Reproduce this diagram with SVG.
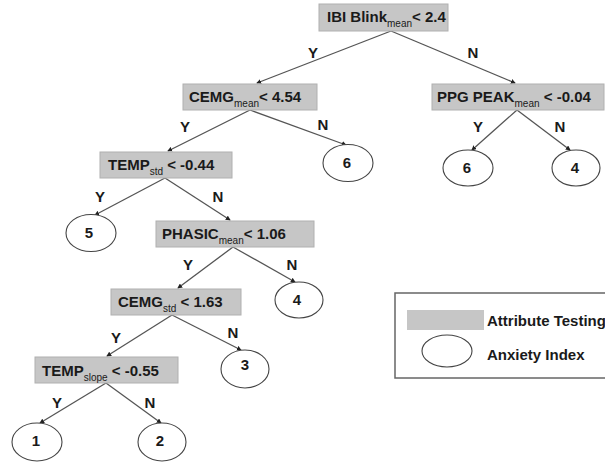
<svg xmlns="http://www.w3.org/2000/svg" width="605" height="464" viewBox="0 0 605 464">
<defs>
<style>
.box{fill:#c6c6c6;stroke:#b0b0b0;stroke-width:1}
.bt{font-family:"Liberation Sans",Arial,sans-serif;font-weight:bold;font-size:15px;fill:#1a1a1a}
.sub{font-size:10px;font-weight:normal}
.leaf{fill:#fff;stroke:#444;stroke-width:1.1}
.num{font-family:"Liberation Sans",Arial,sans-serif;font-weight:bold;font-size:15px;fill:#1a1a1a;text-anchor:middle}
.lbl{font-family:"Liberation Sans",Arial,sans-serif;font-weight:bold;font-size:15px;fill:#1a1a1a;text-anchor:middle}
.edge{stroke:#555;stroke-width:1.3;fill:none;marker-end:url(#arr)}
</style>
<marker id="arr" viewBox="0 0 6 6" refX="5" refY="3" markerWidth="5" markerHeight="5" markerUnits="userSpaceOnUse" orient="auto">
<path d="M0,0 L6,3 L0,6 Z" fill="#222"/>
</marker>
</defs>
<rect width="605" height="464" fill="#fff"/>

<g id="connectors">
<line class="edge" x1="391" y1="31" x2="257" y2="83"/>
<line class="edge" x1="391" y1="31" x2="515" y2="83"/>
<line class="edge" x1="250" y1="110" x2="168" y2="151"/>
<line class="edge" x1="250" y1="110" x2="346" y2="145"/>
<line class="edge" x1="517" y1="110" x2="472" y2="150"/>
<line class="edge" x1="517" y1="110" x2="570" y2="150"/>
<line class="edge" x1="165" y1="178" x2="95" y2="215"/>
<line class="edge" x1="165" y1="178" x2="230" y2="220"/>
<line class="edge" x1="233" y1="247" x2="178" y2="288"/>
<line class="edge" x1="233" y1="247" x2="295" y2="282"/>
<line class="edge" x1="172" y1="315" x2="107" y2="356"/>
<line class="edge" x1="172" y1="315" x2="241" y2="350"/>
<line class="edge" x1="106" y1="383" x2="40" y2="423"/>
<line class="edge" x1="106" y1="383" x2="161" y2="423"/>
<text class="lbl" x="313" y="58">Y</text>
<text class="lbl" x="473" y="58">N</text>
<text class="lbl" x="185" y="132">Y</text>
<text class="lbl" x="323" y="130">N</text>
<text class="lbl" x="478" y="132">Y</text>
<text class="lbl" x="560" y="132">N</text>
<text class="lbl" x="100" y="202">Y</text>
<text class="lbl" x="218" y="202">N</text>
<text class="lbl" x="188" y="270">Y</text>
<text class="lbl" x="292" y="270">N</text>
<text class="lbl" x="116" y="343">Y</text>
<text class="lbl" x="233" y="338">N</text>
<text class="lbl" x="57" y="408">Y</text>
<text class="lbl" x="150" y="408">N</text>
</g>

<g id="n_root">
<rect class="box" x="319" y="4" width="129" height="27"/>
<text class="bt" x="327" y="22">IBI Blink<tspan class="sub" dy="5">mean</tspan><tspan dy="-5">&lt; 2.4</tspan></text>
</g>
<g id="n_cemg_mean">
<rect class="box" x="183" y="84" width="134" height="26"/>
<text class="bt" x="189" y="102">CEMG<tspan class="sub" dy="5">mean</tspan><tspan dy="-5">&lt; 4.54</tspan></text>
</g>
<g id="n_ppg">
<rect class="box" x="432" y="84" width="172" height="26"/>
<text class="bt" x="437" y="102">PPG PEAK<tspan class="sub" dy="5">mean</tspan><tspan dy="-5"> &lt; -0.04</tspan></text>
</g>
<g id="n_temp_std">
<rect class="box" x="100" y="152" width="132" height="26"/>
<text class="bt" x="108" y="170">TEMP<tspan class="sub" dy="5">std</tspan><tspan dy="-5"> &lt; -0.44</tspan></text>
</g>
<g id="n_phasic">
<rect class="box" x="156" y="221" width="158" height="26"/>
<text class="bt" x="162" y="239">PHASIC<tspan class="sub" dy="5">mean</tspan><tspan dy="-5">&lt; 1.06</tspan></text>
</g>
<g id="n_cemg_std">
<rect class="box" x="111" y="289" width="130" height="26"/>
<text class="bt" x="118" y="307">CEMG<tspan class="sub" dy="5">std</tspan><tspan dy="-5"> &lt; 1.63</tspan></text>
</g>
<g id="n_temp_slope">
<rect class="box" x="35" y="357" width="143" height="26"/>
<text class="bt" x="42" y="376">TEMP<tspan class="sub" dy="5">slope</tspan><tspan dy="-5"> &lt; -0.55</tspan></text>
</g>

<g id="leaf_6a"><ellipse class="leaf" cx="348" cy="163" rx="25" ry="18.5"/><text class="num" x="347" y="168">6</text></g>
<g id="leaf_6b"><ellipse class="leaf" cx="468" cy="168" rx="25" ry="18"/><text class="num" x="467" y="173">6</text></g>
<g id="leaf_4a"><ellipse class="leaf" cx="576" cy="168" rx="24" ry="18"/><text class="num" x="575" y="173">4</text></g>
<g id="leaf_5"><ellipse class="leaf" cx="91" cy="233" rx="25" ry="18.5"/><text class="num" x="89" y="238">5</text></g>
<g id="leaf_4b"><ellipse class="leaf" cx="299" cy="300" rx="24" ry="18"/><text class="num" x="297" y="305">4</text></g>
<g id="leaf_3"><ellipse class="leaf" cx="245" cy="369" rx="24" ry="19"/><text class="num" x="245" y="370">3</text></g>
<g id="leaf_1"><ellipse class="leaf" cx="37" cy="442" rx="25" ry="19"/><text class="num" x="36" y="446">1</text></g>
<g id="leaf_2"><ellipse class="leaf" cx="162" cy="442" rx="24" ry="19"/><text class="num" x="160" y="446">2</text></g>

<g id="legend">
<rect x="395" y="293" width="250" height="85" fill="#fff" stroke="#666" stroke-width="1.5"/>
<rect x="407" y="310" width="77" height="20" fill="#c6c6c6"/>
<text class="bt" x="487" y="326">Attribute Testing</text>
<ellipse class="leaf" cx="447" cy="351" rx="25" ry="16"/>
<text class="bt" x="487" y="360">Anxiety Index</text>
</g>
</svg>
